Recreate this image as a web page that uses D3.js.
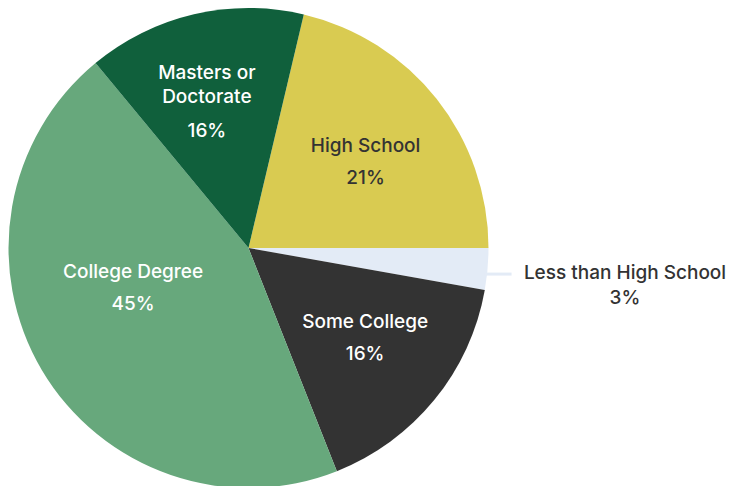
<!DOCTYPE html>
<html>
<head>
<meta charset="utf-8">
<script src="https://cdn.jsdelivr.net/npm/d3@7"></script>
<style>
  html, body { margin: 0; padding: 0; background: #ffffff; }
  svg { display: block; }
  text { font-family: Inter, "Noto Sans", sans-serif; font-weight: 500; }
</style>
</head>
<body>
<svg id="chart" width="729" height="486"></svg>
<script>
// Data, in drawing order clockwise
const categories = ["High School", "Less than High School", "Some College", "College Degree", "Masters or Doctorate"];
const values = [21.3, 2.8, 16.2, 45.0, 14.7];
const valueLabels = ["21%", "3%", "16%", "45%", "16%"];
const colors = ["#d9cb51", "#e3ebf6", "#333333", "#67a87c", "#10603c"];

const W = 729, H = 486;
const cx = 248.5, cy = 248, R = 240;
const FS = 19;

const svg = d3.select("#chart");
const g = svg.append("g").attr("transform", `translate(${cx},${cy})`);

const data = categories.map((c, i) => ({ name: c, value: values[i], label: valueLabels[i], color: colors[i] }));
const total = d3.sum(values);
// first slice ends at 3 o'clock
const start = Math.PI / 2 - (values[0] / total) * 2 * Math.PI;

const pie = d3.pie().value(d => d.value).sort(null)
  .startAngle(start).endAngle(start + 2 * Math.PI);
const arcs = pie(data);
const arc = d3.arc().innerRadius(0).outerRadius(R);
const labelArc = d3.arc().innerRadius(148).outerRadius(148);

g.selectAll("path.slice").data(arcs).enter().append("path")
  .attr("class", "slice")
  .attr("d", arc)
  .attr("fill", d => d.data.color);

// label layout tweaks (drawing code, not data)
const nudge = {
  "High School": [1, 5],
  "Some College": [2, -5],
  "College Degree": [12, -36],
  "Masters or Doctorate": [-8, -2]
};
const lineBreaks = { "Masters or Doctorate": ["Masters or", "Doctorate"] };
const darkText = new Set(["High School", "Less than High School"]);

arcs.forEach(a => {
  const name = a.data.name;
  if (name === "Less than High School") {
    // outside label with leader line
    const mid = (a.startAngle + a.endAngle) / 2;
    const p0 = [Math.sin(mid) * R, -Math.cos(mid) * R];
    const ly = p0[1] + 5;
    g.append("line")
      .attr("x1", p0[0] - 3).attr("y1", ly)
      .attr("x2", p0[0] + 24).attr("y2", ly)
      .attr("stroke", a.data.color).attr("stroke-width", 3);
    const tx = 625 - cx;
    const t = g.append("text").attr("text-anchor", "middle").attr("fill", "#333333").attr("font-size", FS);
    t.append("tspan").attr("x", tx).attr("y", ly + 5).text(name);
    t.append("tspan").attr("x", tx).attr("y", ly + 30).text(a.data.label);
    return;
  }
  let [x, y] = labelArc.centroid(a);
  const n = nudge[name] || [0, 0];
  x += n[0]; y += n[1];
  const fill = darkText.has(name) ? "#333333" : "#ffffff";
  const lines = lineBreaks[name] || [name];
  const t = g.append("text").attr("text-anchor", "middle").attr("fill", fill).attr("font-size", FS);
  if (lines.length === 1) {
    t.append("tspan").attr("x", x).attr("y", y - 9).text(lines[0]);
    t.append("tspan").attr("x", x).attr("y", y + 23).text(a.data.label);
  } else {
    t.append("tspan").attr("x", x).attr("y", y - 23).text(lines[0]);
    t.append("tspan").attr("x", x).attr("y", y + 1).text(lines[1]);
    t.append("tspan").attr("x", x).attr("y", y + 35).text(a.data.label);
  }
});
</script>
</body>
</html>
